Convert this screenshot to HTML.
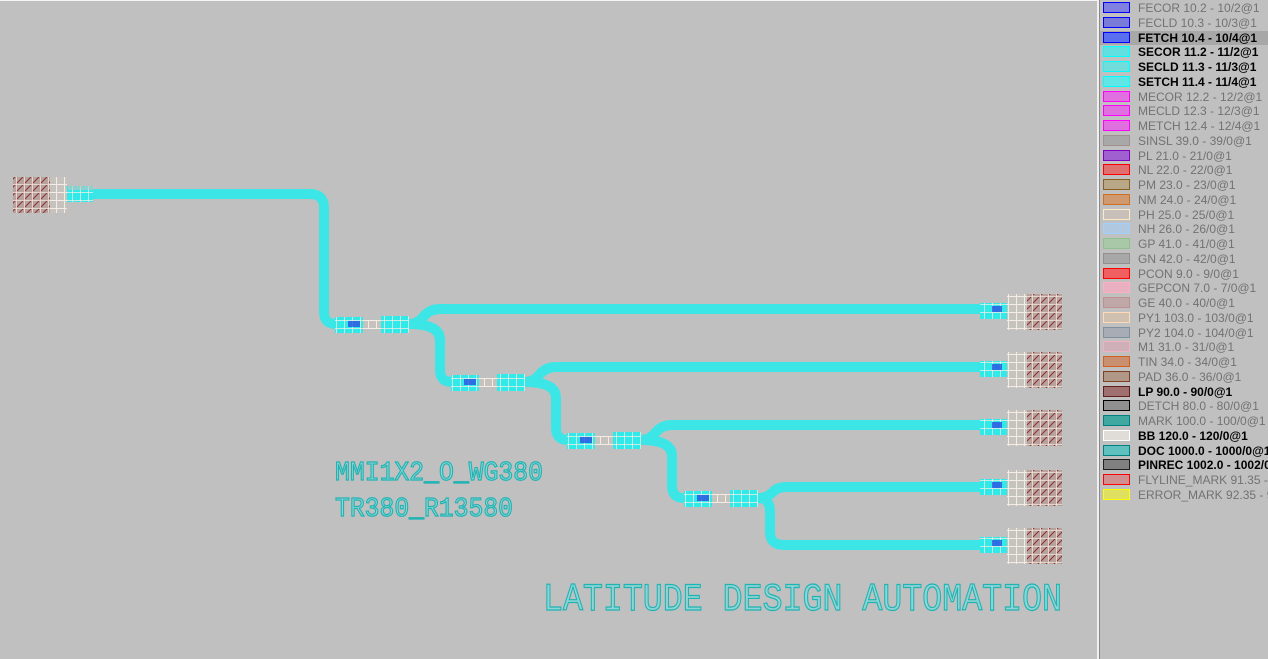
<!DOCTYPE html>
<html><head><meta charset="utf-8"><style>
body{margin:0;width:1268px;height:659px;overflow:hidden;background:#c0c0c0;font-family:"Liberation Sans",sans-serif;position:relative}
.div1{position:absolute;left:1097px;top:0;width:2px;height:659px;background:#f0f0f0}
.div2{position:absolute;left:1099px;top:0;width:1px;height:659px;background:#8a8a8a}
.top{position:absolute;left:0;top:0;width:1097px;height:1px;background:#f4f4f4}
.leg{position:absolute;left:1100px;top:0;width:168px}
.r{position:absolute;left:0;width:168px;height:14px;font-size:12px;line-height:14px;color:#727272;white-space:nowrap;overflow:hidden}
.r i{position:absolute;left:3px;top:1px;width:25px;height:9px;border:1px solid;display:block}
.r span{position:absolute;left:38px;top:0}
.b{color:#000;font-weight:bold}
.sel{background:#a8a8a8}
</style></head><body>
<div class="top"></div>
<svg width="1097" height="659" style="position:absolute;left:0;top:0">
<defs>
<pattern id="grid" width="8" height="8" patternUnits="userSpaceOnUse"><rect width="8" height="8" fill="#c6c2be"/><path d="M0 0H8M0 0V8" stroke="#f4ece4" stroke-width="2"/></pattern>
<pattern id="hatch" width="8" height="8" patternUnits="userSpaceOnUse"><rect width="8" height="8" fill="#b8a29e"/><path d="M1 7L7 1" stroke="#8a3030" stroke-width="1"/><path d="M0 0H8M0 0V8" stroke="#efe6dc" stroke-width="1.5"/></pattern>
<pattern id="gridc" width="8" height="8" patternUnits="userSpaceOnUse"><rect width="8" height="8" fill="#30eaea"/><path d="M0 0H8M0 0V8" stroke="#f4ece4" stroke-width="1.5"/></pattern>
</defs>
<g fill="none" stroke="#3de6e6" stroke-width="10">
<path d="M93 194H310Q324 194 324 208V312Q324 324 336 324"/>
<path d="M409 324Q418 324 424 316Q430 309 440 309H985"/>
<path d="M409 324Q440 324 440 340V370Q440 382 452 382"/>
<path d="M525 382Q534 382 540 374Q546 367 556 367H985"/>
<path d="M525 382Q556 382 556 398V428Q556 440 568 440"/>
<path d="M641 440Q650 440 656 432Q662 425 672 425H985"/>
<path d="M641 440Q672 440 672 456V486Q672 498 684 498"/>
<path d="M758 498Q767 498 773 492Q777 487 787 487H985"/>
<path d="M758 498Q770 498 770 512V532Q770 545 784 545H985"/>
</g>
<rect x="13" y="177" width="54" height="36" fill="url(#grid)"/>
<rect x="13" y="177" width="37" height="36" fill="url(#hatch)"/>
<rect x="67" y="186" width="26" height="16" fill="url(#gridc)"/>
<rect x="68" y="186" width="26" height="4" fill="#c6c2be" opacity=".6"/>
<g id="s">
<rect x="335" y="317" width="28" height="16" fill="url(#gridc)"/>
<rect x="363" y="320" width="18" height="9" fill="url(#grid)"/>
<rect x="381" y="316" width="28" height="17" fill="url(#gridc)"/>
<rect x="348" y="321" width="12" height="6" fill="#2a50e0" opacity=".8"/>
</g>
<use href="#s" x="116" y="58"/><use href="#s" x="232" y="116"/><use href="#s" x="349" y="174"/>
<g id="p">
<rect x="980" y="303" width="27" height="16" fill="url(#gridc)"/>
<rect x="992" y="306" width="10" height="6" fill="#2a50e0" opacity=".8"/>
<rect x="1007" y="294" width="55" height="36" fill="url(#grid)"/>
<rect x="1027" y="294" width="35" height="36" fill="url(#hatch)"/>
</g>
<use href="#p" y="58"/><use href="#p" y="116"/><use href="#p" y="176"/><use href="#p" y="234"/>
<g font-family="Liberation Mono,monospace" fill="#8fd4d4" stroke="#1fb3b3" stroke-width="1.2">
<text x="335" y="480" font-size="27" textLength="208" lengthAdjust="spacingAndGlyphs">MMI1X2_O_WG380</text>
<text x="335" y="516" font-size="27" textLength="178" lengthAdjust="spacingAndGlyphs">TR380_R13580</text>
<text x="543" y="610" font-size="39" textLength="519" lengthAdjust="spacingAndGlyphs">LATITUDE DESIGN AUTOMATION</text>
</g>
</svg>
<div class="div1"></div><div class="div2"></div>
<div class="leg">
<div class="r" style="top:1px"><i style="border-color:#0000ff;background:#8080e0"></i><span>FECOR 10.2 - 10/2@1</span></div>
<div class="r" style="top:16px"><i style="border-color:#0000ff;background:#7a7ad8"></i><span>FECLD 10.3 - 10/3@1</span></div>
<div class="r b sel" style="top:31px"><i style="border-color:#0000ff;background:#5a6ef0"></i><span>FETCH 10.4 - 10/4@1</span></div>
<div class="r b" style="top:45px"><i style="border-color:#00ffff;background:#60e0e0"></i><span>SECOR 11.2 - 11/2@1</span></div>
<div class="r b" style="top:60px"><i style="border-color:#00ffff;background:#70dcdc"></i><span>SECLD 11.3 - 11/3@1</span></div>
<div class="r b" style="top:75px"><i style="border-color:#00ffff;background:#60e6e6"></i><span>SETCH 11.4 - 11/4@1</span></div>
<div class="r" style="top:90px"><i style="border-color:#ff00ff;background:#e070e0"></i><span>MECOR 12.2 - 12/2@1</span></div>
<div class="r" style="top:104px"><i style="border-color:#ff00ff;background:#e070e0"></i><span>MECLD 12.3 - 12/3@1</span></div>
<div class="r" style="top:119px"><i style="border-color:#ff00ff;background:#e070e0"></i><span>METCH 12.4 - 12/4@1</span></div>
<div class="r" style="top:134px"><i style="border-color:#a09090;background:#a8a8a8"></i><span>SINSL 39.0 - 39/0@1</span></div>
<div class="r" style="top:149px"><i style="border-color:#8000c0;background:#a060d0"></i><span>PL 21.0 - 21/0@1</span></div>
<div class="r" style="top:163px"><i style="border-color:#ff0000;background:#e07070"></i><span>NL 22.0 - 22/0@1</span></div>
<div class="r" style="top:178px"><i style="border-color:#8a6020;background:#b8a888"></i><span>PM 23.0 - 23/0@1</span></div>
<div class="r" style="top:193px"><i style="border-color:#d07020;background:#d09a70"></i><span>NM 24.0 - 24/0@1</span></div>
<div class="r" style="top:208px"><i style="border-color:#ffe8c8;background:#c8c0b8"></i><span>PH 25.0 - 25/0@1</span></div>
<div class="r" style="top:222px"><i style="border-color:#a0d0ff;background:#b0c8e0"></i><span>NH 26.0 - 26/0@1</span></div>
<div class="r" style="top:237px"><i style="border-color:#90c090;background:#a8c8a8"></i><span>GP 41.0 - 41/0@1</span></div>
<div class="r" style="top:252px"><i style="border-color:#909090;background:#a8a8a8"></i><span>GN 42.0 - 42/0@1</span></div>
<div class="r" style="top:267px"><i style="border-color:#ff0000;background:#f06060"></i><span>PCON 9.0 - 9/0@1</span></div>
<div class="r" style="top:281px"><i style="border-color:#ffb0c0;background:#e8b0c0"></i><span>GEPCON 7.0 - 7/0@1</span></div>
<div class="r" style="top:296px"><i style="border-color:#c09090;background:#c0a8a8"></i><span>GE 40.0 - 40/0@1</span></div>
<div class="r" style="top:311px"><i style="border-color:#ffd8b8;background:#d0c0b0"></i><span>PY1 103.0 - 103/0@1</span></div>
<div class="r" style="top:326px"><i style="border-color:#8090a0;background:#a8acb4"></i><span>PY2 104.0 - 104/0@1</span></div>
<div class="r" style="top:340px"><i style="border-color:#f0b0c0;background:#d0b0b8"></i><span>M1 31.0 - 31/0@1</span></div>
<div class="r" style="top:355px"><i style="border-color:#d06020;background:#c89070"></i><span>TIN 34.0 - 34/0@1</span></div>
<div class="r" style="top:370px"><i style="border-color:#804020;background:#b09888"></i><span>PAD 36.0 - 36/0@1</span></div>
<div class="r b" style="top:385px"><i style="border-color:#602020;background:#a07070"></i><span>LP 90.0 - 90/0@1</span></div>
<div class="r" style="top:399px"><i style="border-color:#000;background:#909090"></i><span>DETCH 80.0 - 80/0@1</span></div>
<div class="r" style="top:414px"><i style="border-color:#008080;background:#40a8a0"></i><span>MARK 100.0 - 100/0@1</span></div>
<div class="r b" style="top:429px"><i style="border-color:#fff;background:#e0dcd8"></i><span>BB 120.0 - 120/0@1</span></div>
<div class="r b" style="top:444px"><i style="border-color:#008080;background:#60c0c0"></i><span>DOC 1000.0 - 1000/0@1</span></div>
<div class="r b" style="top:458px"><i style="border-color:#202020;background:#808080"></i><span>PINREC 1002.0 - 1002/0...</span></div>
<div class="r" style="top:473px"><i style="border-color:#ff0000;background:#d09090"></i><span>FLYLINE_MARK 91.35 - 91...</span></div>
<div class="r" style="top:488px"><i style="border-color:#ffff00;background:#e0e060"></i><span>ERROR_MARK 92.35 - 92/...</span></div>
</div>
</body></html>
